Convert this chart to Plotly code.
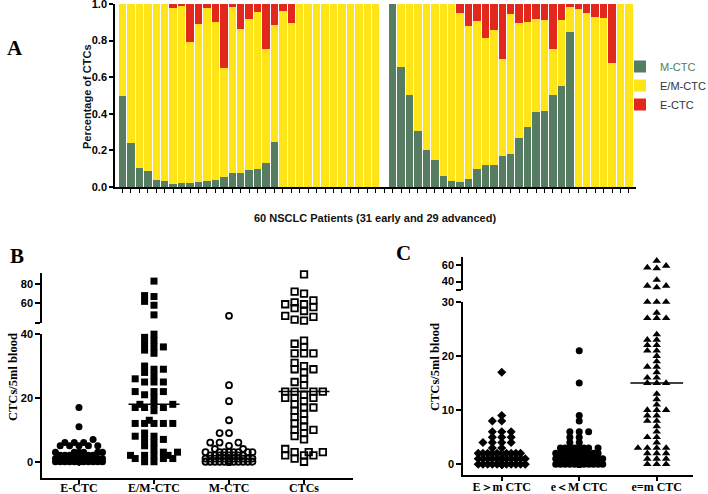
import numpy as np
import plotly.graph_objects as go

W, H = 708, 494

# ---------------- Panel A data (fractions per patient) ----------------
early_M = [0.50, 0.24, 0.104, 0.089, 0.036, 0.031, 0.018, 0.020, 0.024, 0.027, 0.031, 0.038, 0.055,
           0.077, 0.077, 0.091, 0.099, 0.130, 0.245, 0, 0, 0, 0, 0, 0, 0, 0, 0, 0, 0, 0]
early_EM = [0.50, 0.76, 0.896, 0.911, 0.964, 0.969, 0.958, 0.969, 0.770, 0.862, 0.945, 0.863, 0.598,
            0.905, 0.784, 0.825, 0.859, 0.624, 0.640, 0.962, 0.894, 1, 1, 1, 1, 1, 1, 1, 1, 1, 1]
early_E = [0, 0, 0, 0, 0, 0, 0.024, 0.011, 0.206, 0.111, 0.024, 0.099, 0.347,
           0.018, 0.139, 0.084, 0.042, 0.246, 0.115, 0.038, 0.106, 0, 0, 0, 0, 0, 0, 0, 0, 0, 0]

adv_M = [1.0, 0.655, 0.504, 0.305, 0.204, 0.148, 0.060, 0.031, 0.026, 0.046, 0.100, 0.120, 0.122,
         0.168, 0.181, 0.268, 0.327, 0.412, 0.414, 0.504, 0.551, 0.845, 0, 0, 0, 0, 0, 0, 0]
adv_EM = [0, 0.345, 0.496, 0.695, 0.796, 0.852, 0.940, 0.969, 0.923, 0.834, 0.809, 0.692, 0.736,
          0.529, 0.764, 0.630, 0.574, 0.508, 0.498, 0.251, 0.361, 0.140, 0.970, 0.953, 0.931,
          0.922, 0.675, 1, 1]
adv_E = [0, 0, 0, 0, 0, 0, 0, 0, 0.051, 0.120, 0.091, 0.188, 0.142,
         0.303, 0.055, 0.102, 0.099, 0.080, 0.088, 0.245, 0.088, 0.015, 0.030, 0.047, 0.069,
         0.078, 0.325, 0, 0]

a_series = ["M-CTC", "E/M-CTC", "E-CTC"]

# ---------------- Panel B data (CTCs / 5 ml blood) ----------------
b_categories = ["E-CTC", "E/M-CTC", "M-CTC", "CTCs"]
b_e_ctc = [17, 11, 7, 6, 6, 6, 5, 5, 5, 5, 5, 3, 3, 3, 3, 3, 3, 2, 2, 2, 2, 2, 2, 2, 2,
           1, 1, 1, 1, 1, 1, 1, 1, 1, 1, 1, 1,
           0, 0, 0, 0, 0, 0, 0, 0, 0, 0, 0, 0, 0, 0, 0, 0, 0, 0, 0, 0, 0, 0, 0]
b_em_ctc = [83, 68, 67, 62, 58, 48, 40, 39, 38, 37, 36, 36, 35, 34, 30, 29, 29, 28, 27, 26,
            25, 25, 25, 22, 22, 22, 21, 20, 18, 18, 18, 17, 17, 17, 16, 13, 12, 12, 12, 12,
            12, 9, 8, 8, 7, 7, 6, 5, 4, 3, 3, 2, 2, 2, 2, 1, 1, 1, 0, 0]
b_m_ctc = [47, 24, 19, 13, 9, 9, 6, 6, 6, 5, 4, 4, 3, 3, 3, 3, 3, 3, 3, 3,
           2, 2, 2, 2, 2, 2, 2, 2, 1, 1, 1, 1, 1, 1, 1, 1, 1, 1, 1, 1,
           0, 0, 0, 0, 0, 0, 0, 0, 0, 0, 0, 0, 0, 0, 0, 0, 0, 0, 0, 0]
b_ctcs = [90, 72, 70, 63, 61, 59, 59, 56, 55, 52, 47, 46, 43, 42, 38, 37, 36, 34, 34, 34,
          31, 30, 29, 29, 28, 26, 25, 24, 22, 22, 22, 22, 21, 20, 20, 20, 19, 18, 17, 17,
          16, 15, 14, 13, 12, 11, 10, 10, 9, 8, 7, 4, 3, 3, 3, 2, 2, 2, 1, 0]

# ---------------- Panel C data ----------------
c_categories = ["E＞m CTC", "e＜M CTC", "e=m CTC"]
c_e_gt_m = [17, 9, 8, 8, 6, 6, 6, 5, 5, 5, 4, 4, 4, 4, 3, 3,
            2, 2, 2, 2, 2, 2, 2, 2, 2, 2, 1, 1, 1, 1, 1, 1, 1, 1, 1, 1, 1, 1,
            0, 0, 0, 0, 0, 0, 0, 0, 0, 0, 0, 0, 0, 0, 0, 0, 0, 0, 0, 0, 0, 0]
c_e_lt_m = [21, 15, 9, 8, 6, 6, 6, 5, 5, 4, 4, 3, 3, 3, 3, 3, 3, 3, 3,
            2, 2, 2, 2, 2, 2, 2, 2, 2, 2, 1, 1, 1, 1, 1, 1, 1, 1, 1, 1, 1, 1, 1, 1,
            0, 0, 0, 0, 0, 0, 0, 0, 0, 0, 0, 0, 0, 0, 0, 0, 0]
c_e_eq_m = [65, 59, 57, 56, 42, 35, 35, 33, 30, 30, 30, 28, 27, 27, 27, 24, 23, 23, 22, 22,
            21, 21, 20, 19, 18, 18, 17, 16, 16, 15, 15, 15, 13, 12, 11, 10, 10, 10, 9, 9,
            8, 8, 7, 6, 5, 5, 4, 3, 3, 3, 3, 2, 2, 2, 1, 1, 1, 0, 0, 0]

# ---------------- styling ----------------
GREEN, YELLOW, RED = "#567C62", "#FFE417", "#E2281D"
SANS = "Arial, Liberation Sans, sans-serif"
SERIF = "Times New Roman, Liberation Serif, serif"


def px_x(p):
    return p / W


def px_y(p):
    return 1 - p / H


axis_style = dict(showline=True, linecolor="black", linewidth=1.5, ticks="outside",
                  tickcolor="black", tickwidth=1.5, ticklen=5, showgrid=False, zeroline=False,
                  automargin=False, ticklabeloverflow="allow")

fig = go.Figure()

# ---------------- Panel A ----------------
n_early, n_adv = len(early_M), len(adv_M)
x_slots = list(range(1, n_early + 1)) + list(range(n_early + 2, n_early + 2 + n_adv))
for name, vals, col in [(a_series[0], early_M + adv_M, GREEN),
                        (a_series[1], early_EM + adv_EM, YELLOW),
                        (a_series[2], early_E + adv_E, RED)]:
    label = name if name != "M-CTC" else f"<span style='color:{GREEN}'>{name}</span>"
    fig.add_trace(go.Bar(x=x_slots, y=vals, name=label, marker=dict(color=col, line=dict(width=0)),
                         xaxis="x", yaxis="y"))

A_X0, A_X1, A_Y0, A_Y1 = 115, 636, 187, 4
fig.update_layout(
    xaxis=dict(domain=[px_x(A_X0), px_x(A_X1)], range=[0.11, 61.84], anchor="y",
               tick0=1, dtick=1, showticklabels=False, **{**axis_style, "ticklen": 4, "tickwidth": 1}),
    yaxis=dict(domain=[px_y(A_Y0), px_y(A_Y1)], range=[0, 1], anchor="x",
               tickvals=[0, 0.2, 0.4, 0.6, 0.8, 1.0], tickformat=".1f",
               tickfont=dict(family=SANS, size=11, color="black", weight="bold"),
               **{**axis_style, "ticklen": 4}),
    barmode="stack", bargap=0.12,
)


# ---------------- swarm helper ----------------
def swarm_offsets(vals, x_ppu, y_ppu, step=4.7, nmax=5, size=7.0, ytol=5.0):
    vals = np.asarray(vals, float)
    cands = [0.0]
    for k in range(1, nmax + 1):
        cands += [-k * step, k * step]
    order = np.argsort(vals, kind="stable")
    px_, py_ = [], []
    out = np.zeros(len(vals))
    for i in order:
        yp = vals[i] * y_ppu
        chosen, best, best_d = None, 0.0, -1.0
        for c in cands:
            ok, dmin = True, 1e9
            for qx, qy in zip(px_, py_):
                dx, dy = abs(c - qx), abs(yp - qy)
                if dx < size and dy < ytol:
                    ok = False
                dmin = min(dmin, float(np.hypot(dx, dy)))
            if ok:
                chosen = c
                break
            if dmin > best_d:
                best_d, best = dmin, c
        if chosen is None:
            chosen = best
        px_.append(chosen)
        py_.append(yp)
        out[i] = chosen / x_ppu
    return out


def add_broken_column(vals, center, split, xa, ya_low, ya_up, x_ppu, ylow_ppu, yup_ppu, marker):
    vals = np.asarray(vals, float)
    low = vals[vals <= split]
    up = vals[vals > split]
    for sub, ya, yppu in [(low, ya_low, ylow_ppu), (up, ya_up, yup_ppu)]:
        if len(sub) == 0:
            continue
        off = swarm_offsets(sub, x_ppu, yppu)
        fig.add_trace(go.Scatter(x=center + off, y=sub, mode="markers", marker=marker,
                                 xaxis=xa, yaxis=ya, showlegend=False, hoverinfo="y",
                                 cliponaxis=False))
    med = float(np.median(vals))
    fig.add_trace(go.Scatter(x=[center - 0.34, center + 0.34], y=[med, med], mode="lines",
                             line=dict(color="black", width=1.5), xaxis=xa,
                             yaxis=ya_low if med <= split else ya_up, showlegend=False,
                             hoverinfo="skip"))


# ---------------- Panel B ----------------
B_X0, B_X1 = 42, 353
B_LOW = (478, 334)   # bottom, top pixels
B_UP = (322.7, 273)
b_xr = [0.507, 4.653]
b_lr = [-5.1, 40.05]
b_ur = [39.9, 91.4]
bx_ppu = (B_X1 - B_X0) / (b_xr[1] - b_xr[0])
bl_ppu = (B_LOW[0] - B_LOW[1]) / (b_lr[1] - b_lr[0])
bu_ppu = (B_UP[0] - B_UP[1]) / (b_ur[1] - b_ur[0])

b_markers = [dict(symbol="circle", size=7, color="black"),
             dict(symbol="square", size=7, color="black"),
             dict(symbol="circle-open", size=6, color="black", line=dict(width=1.8, color="black")),
             dict(symbol="square-open", size=6.5, color="black", line=dict(width=1.8, color="black"))]
for i, vals in enumerate([b_e_ctc, b_em_ctc, b_m_ctc, b_ctcs]):
    add_broken_column(vals, i + 1, 40, "x2", "y2", "y3", bx_ppu, bl_ppu, bu_ppu, b_markers[i])

# ---------------- Panel C ----------------
C_X0, C_X1 = 463, 693
C_LOW = (475, 301.7)
C_UP = (290, 256.7)
c_xr = [0.5, 3.468]
c_lr = [-2, 30.05]
c_ur = [29.9, 70]
cx_ppu = (C_X1 - C_X0) / (c_xr[1] - c_xr[0])
cl_ppu = (C_LOW[0] - C_LOW[1]) / (c_lr[1] - c_lr[0])
cu_ppu = (C_UP[0] - C_UP[1]) / (c_ur[1] - c_ur[0])

c_markers = [dict(symbol="diamond", size=7, color="black"),
             dict(symbol="circle", size=7, color="black"),
             dict(symbol="triangle-up", size=7.5, color="black")]
for i, vals in enumerate([c_e_gt_m, c_e_lt_m, c_e_eq_m]):
    add_broken_column(vals, i + 1, 30, "x3", "y4", "y5", cx_ppu, cl_ppu, cu_ppu, c_markers[i])

num_font = dict(family=SANS, size=11, color="black", weight="bold")
cat_font = dict(family=SERIF, size=12, color="black", weight="bold")

fig.update_layout(
    xaxis2=dict(domain=[px_x(B_X0), px_x(B_X1)], range=b_xr, anchor="y2",
                tickvals=[1, 2, 3, 4], ticktext=b_categories, tickfont=cat_font,
                ticklabelstandoff=-6, **{**axis_style, "ticklen": 4}),
    yaxis2=dict(domain=[px_y(B_LOW[0]), px_y(B_LOW[1])], range=b_lr, anchor="x2",
                tickvals=[0, 20, 40], tickfont=num_font, **axis_style),
    yaxis3=dict(domain=[px_y(B_UP[0]), px_y(B_UP[1])], range=b_ur, anchor="x2",
                tickvals=[40, 60, 80], ticktext=["", "60", "80"], tickfont=num_font, **axis_style),
    xaxis3=dict(domain=[px_x(C_X0), px_x(C_X1)], range=c_xr, anchor="y4",
                tickvals=[1, 2, 3], ticktext=c_categories, tickfont=cat_font,
                ticklabelstandoff=-4, **{**axis_style, "ticklen": 4}),
    yaxis4=dict(domain=[px_y(C_LOW[0]), px_y(C_LOW[1])], range=c_lr, anchor="x3",
                tickvals=[0, 10, 20, 30], tickfont=num_font, **axis_style),
    yaxis5=dict(domain=[px_y(C_UP[0]), px_y(C_UP[1])], range=c_ur, anchor="x3",
                tickvals=[30, 40, 60], ticktext=["", "40", "60"], tickfont=num_font, **axis_style),
)

# ---------------- text annotations ----------------
ann = []


def add_text(text, x, y, font, angle=0):
    ann.append(dict(text=text, x=px_x(x), y=px_y(y), xref="paper", yref="paper",
                    showarrow=False, xanchor="center", yanchor="middle", textangle=angle, font=font))


add_text("A", 15, 48, dict(family=SERIF, size=21, color="black", weight="bold"))
add_text("B", 17, 256, dict(family=SERIF, size=21, color="black", weight="bold"))
add_text("C", 403, 253, dict(family=SERIF, size=21, color="black", weight="bold"))
add_text("Percentage of CTCs", 87, 97, dict(family=SANS, size=11, color="#111", weight="bold"), -90)
add_text("60 NSCLC Patients (31 early and 29 advanced)", 375, 218,
         dict(family=SANS, size=11, color="#111", weight="bold"))
add_text("CTCs/5ml blood", 13, 377, dict(family=SERIF, size=12.5, color="black", weight="bold"), -90)
add_text("CTCs/5ml blood", 435, 367, dict(family=SERIF, size=12.5, color="black", weight="bold"), -90)

fig.update_layout(
    template="none",
    width=W, height=H, margin=dict(l=0, r=0, t=0, b=0, pad=0, autoexpand=False),
    paper_bgcolor="white", plot_bgcolor="white",
    font=dict(family=SANS, color="black"),
    annotations=ann,
    showlegend=True,
    legend=dict(x=px_x(620), y=px_y(52), xanchor="left", yanchor="top", traceorder="normal",
                font=dict(family=SANS, size=11, color="#333"), bgcolor="rgba(0,0,0,0)",
                borderwidth=0, itemclick=False, itemdoubleclick=False),
)

fig.write_html("out.html", config={"displayModeBar": False},
               post_script="document.body.style.margin='0px';")
